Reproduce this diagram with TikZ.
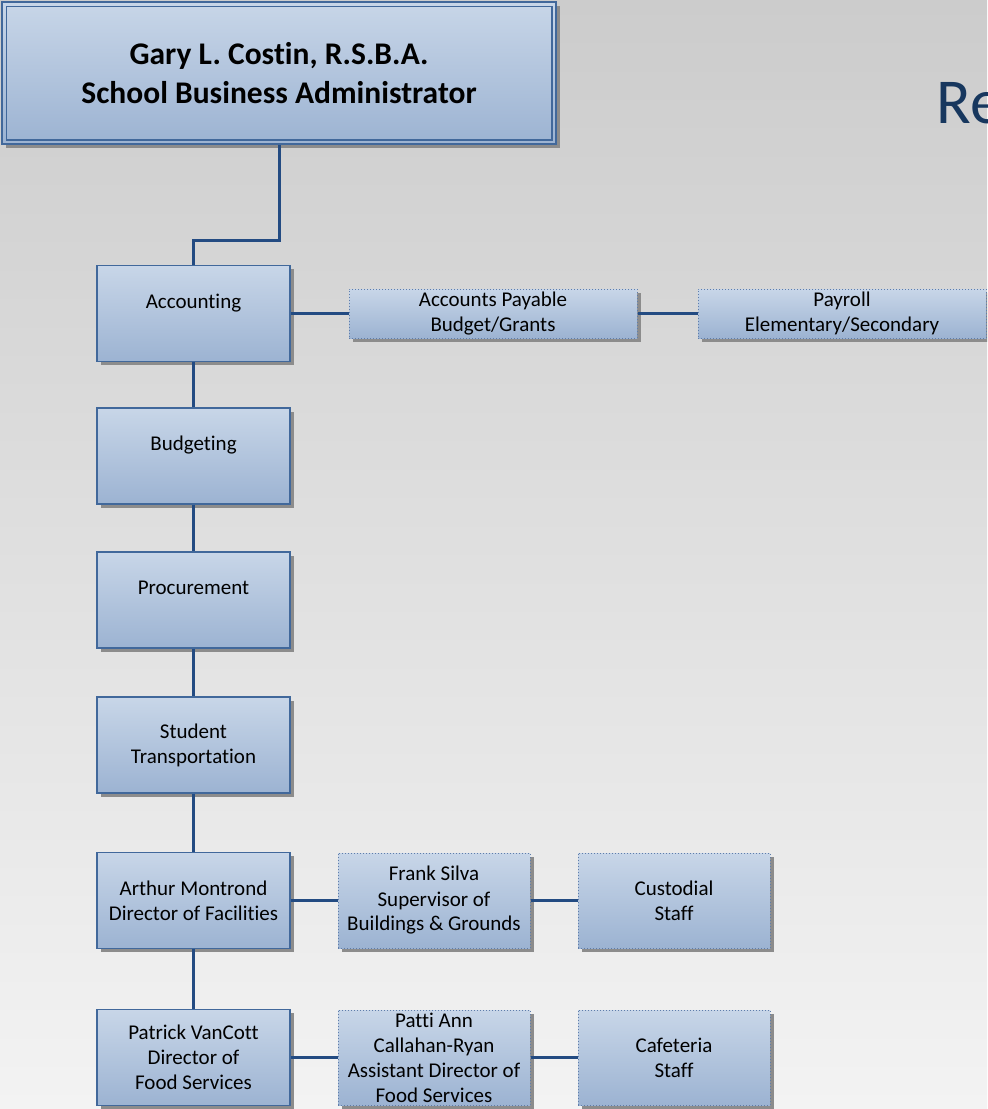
\documentclass[tikz,border=0pt]{standalone}
\usepackage{fontspec}
\setmainfont{Carlito}[Ligatures=NoCommon]
\usetikzlibrary{shadows}
\definecolor{bgtop}{RGB}{204,204,204}
\definecolor{bgbot}{RGB}{243,243,243}
\definecolor{boxtop}{RGB}{200,214,232}
\definecolor{boxbot}{RGB}{156,179,210}
\definecolor{boxline}{RGB}{65,104,155}
\definecolor{dotline}{RGB}{95,125,170}
\definecolor{linkblue}{RGB}{35,75,130}
\definecolor{titleblue}{RGB}{23,55,94}

\begin{document}
\begin{tikzpicture}[x=0.5pt, y=-0.5pt,
  orgbox/.style={rectangle, inner sep=0pt, align=center, top color=boxtop, bottom color=boxbot,
    font=\fontsize{10.5}{12.5}\selectfont,
    drop shadow={shadow xshift=1.75pt, shadow yshift=-1.75pt, fill=black!45, opacity=1}},
  mainbox/.style={orgbox, draw=boxline, line width=0.75pt, minimum width=96.5pt, minimum height=48pt},
  subbox/.style={orgbox, draw=dotline, densely dotted, line width=0.5pt, minimum width=96pt, minimum height=47.5pt},
  conn/.style={draw=linkblue, line width=1.5pt}]
\useasboundingbox (0,0) rectangle (987,1109);
\shade[top color=bgtop, bottom color=bgbot] (0,0) rectangle (987,1109);
\clip (0,0) rectangle (987,1109);

\node[anchor=base west, inner sep=0pt, text=titleblue, font=\fontsize{32}{38}\selectfont] (RE) at (936,123) {Re};

% top box
\node[orgbox, draw=boxline, line width=0.75pt, minimum width=277pt, minimum height=71pt,
  font=\fontsize{15.75}{19.5}\selectfont\bfseries] (SBA) at (279,73) {Gary L. Costin, R.S.B.A.\\School Business Administrator};
\draw[boxline, line width=0.75pt] ([shift={(5,5)}]SBA.north west) rectangle ([shift={(-5,-5)}]SBA.south east);

% main column
\node[mainbox] (ACC) at (193.5,313.5) {Accounting\\\mbox{}};
\node[mainbox] (BUD) at (193.5,456) {Budgeting\\\mbox{}};
\node[mainbox] (PRO) at (193.5,600) {Procurement\\\mbox{}};
\node[mainbox] (TRA) at (193.5,745) {Student\\Transportation};
\node[mainbox] (FAC) at (193.5,900.5) {Arthur Montrond\\Director of Facilities};
\node[mainbox] (FOOD) at (193.5,1057.5) {Patrick VanCott\\Director of\\Food Services};

% side boxes
\node[subbox, minimum width=144pt, minimum height=24.5pt] (AP) at (493,313.5) {Accounts Payable\\Budget/Grants};
\node[subbox, minimum width=144pt, minimum height=24.5pt] (PAY) at (842,313.5) {Payroll\\Elementary/Secondary};
\node[subbox] (BG) at (434,900.5) {Frank Silva\\Supervisor of\\Buildings \& Grounds};
\node[subbox] (CUS) at (674,900.5) {Custodial\\Staff};
\node[subbox] (AFS) at (434,1057.5) {Patti Ann\\Callahan-Ryan\\Assistant Director of\\Food Services};
\node[subbox] (CAF) at (674,1057.5) {Cafeteria\\Staff};

\draw[conn] (SBA.south) -- ++(0,96) -| (ACC.north);
\draw[conn] (ACC.south) -- (BUD.north);
\draw[conn] (BUD.south) -- (PRO.north);
\draw[conn] (PRO.south) -- (TRA.north);
\draw[conn] (TRA.south) -- (FAC.north);
\draw[conn] (FAC.south) -- (FOOD.north);

\draw[conn] (ACC.east) -- (AP.west);
\draw[conn] (AP.east) -- (PAY.west);
\draw[conn] (FAC.east) -- (BG.west);
\draw[conn] (BG.east) -- (CUS.west);
\draw[conn] (FOOD.east) -- (AFS.west);
\draw[conn] (AFS.east) -- (CAF.west);
\end{tikzpicture}
\end{document}
